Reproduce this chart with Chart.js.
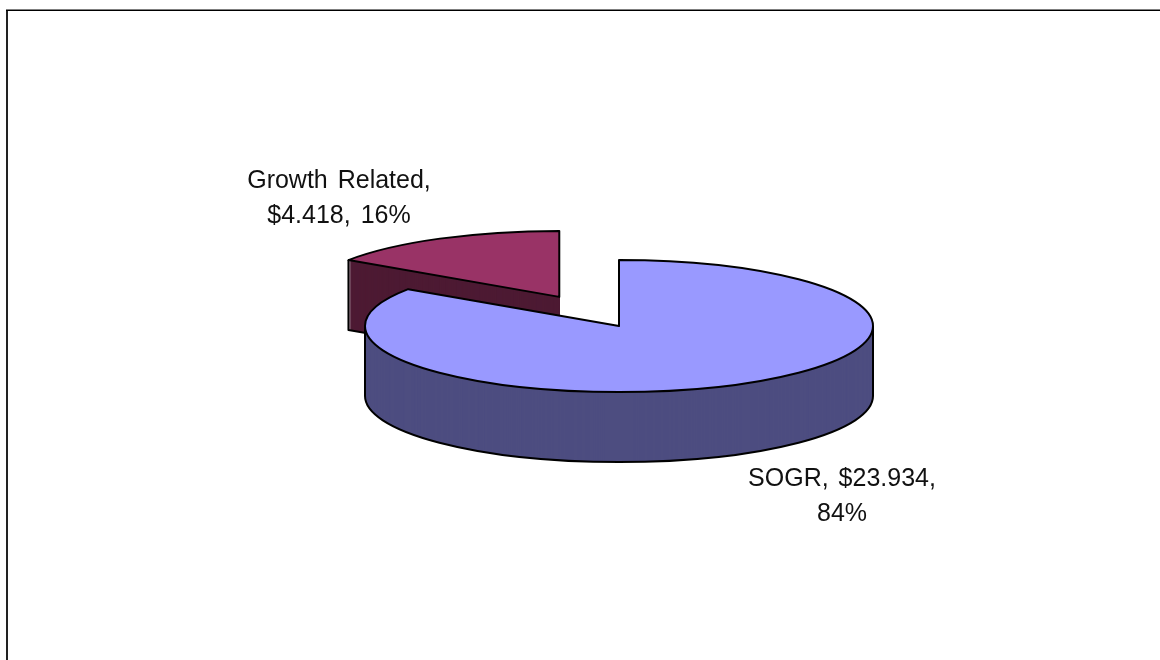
<!DOCTYPE html>
<html>
<head>
<meta charset="utf-8">
<style>
html,body{margin:0;padding:0;background:#fff;overflow:hidden}
canvas{display:block}
</style>
<script src="https://cdn.jsdelivr.net/npm/chart.js@4"></script>
</head>
<body>
<div style="width:1160px;height:660px;position:relative"><canvas id="c"></canvas></div>
<script>
const categories = ['SOGR', 'Growth Related'];
const amounts = [23.934, 4.418];
const topColors = ['#9999FF', '#993366'];
const wallColors = ['#4D4D80', '#4D1A33'];
const labelLines = [
  ['SOGR, $23.934,', '84%'],
  ['Growth Related,', '$4.418, 16%']
];

const SQUASH = 66 / 254, DEPTH = 70, EXPLODE = 127;
const labelAnchors = [[842, 486], [339, 188]];

function placement(arc, i) {
  const mid = (arc.startAngle + arc.endAngle) / 2;
  const off = i === 1 ? EXPLODE : 0;
  return { dx: Math.cos(mid) * off, dy: Math.sin(mid) * off * SQUASH };
}
function fillArc(ctx, arc, i, color, dx, dy) {
  const saved = arc.options;
  arc.options = Object.assign({}, saved, { backgroundColor: color, borderWidth: 0, offset: 0 });
  ctx.save();
  ctx.translate(arc.x + dx, arc.y + dy);
  ctx.scale(1, SQUASH);
  ctx.translate(-arc.x, -arc.y);
  arc.draw(ctx);
  ctx.restore();
  arc.options = saved;
}
function ptOn(arc, a, dx, dy) {
  return [arc.x + dx + Math.cos(a) * arc.outerRadius, arc.y + dy + Math.sin(a) * arc.outerRadius * SQUASH];
}
function stroke(ctx, build) {
  ctx.save();
  ctx.strokeStyle = '#000';
  ctx.lineWidth = 2;
  ctx.lineJoin = 'round';
  ctx.beginPath();
  build();
  ctx.stroke();
  ctx.restore();
}
function drawSlice(ctx, arc, i) {
  const { dx, dy } = placement(arc, i);
  const r = arc.outerRadius, ry = r * SQUASH;
  const cx = arc.x + dx, cy = arc.y + dy;
  for (let d = DEPTH; d >= 1; d--) fillArc(ctx, arc, i, wallColors[i], dx, dy + d);
  if (i === 0) {
    stroke(ctx, () => {
      ctx.moveTo(cx + r, cy);
      ctx.lineTo(cx + r, cy + DEPTH);
      ctx.ellipse(cx, cy + DEPTH, r, ry, 0, 0, Math.PI);
      ctx.lineTo(cx - r, cy);
    });
  } else {
    const p = ptOn(arc, arc.startAngle, dx, dy);
    stroke(ctx, () => {
      ctx.moveTo(p[0], p[1]);
      ctx.lineTo(p[0], p[1] + DEPTH);
      ctx.lineTo(cx, cy + DEPTH);
    });
  }
  fillArc(ctx, arc, i, topColors[i], dx, dy);
  stroke(ctx, () => {
    ctx.moveTo(cx, cy);
    ctx.ellipse(cx, cy, r, ry, 0, arc.startAngle, arc.endAngle);
    ctx.closePath();
  });
}

const pie3d = {
  id: 'pie3d',
  beforeDatasetDraw(chart) {
    const ctx = chart.ctx;
    const arcs = chart.getDatasetMeta(0).data;
    ctx.save();
    ctx.strokeStyle = '#222';
    ctx.lineWidth = 2;
    ctx.beginPath();
    ctx.moveTo(7, 661);
    ctx.lineTo(7, 10);
    ctx.stroke();
    ctx.lineWidth = 1.5;
    ctx.strokeStyle = '#000';
    ctx.beginPath();
    ctx.moveTo(6, 10.25);
    ctx.lineTo(1161, 10.25);
    ctx.stroke();
    ctx.restore();
    drawSlice(ctx, arcs[1], 1);
    drawSlice(ctx, arcs[0], 0);
    ctx.save();
    ctx.fillStyle = '#111';
    ctx.font = '25px "Liberation Sans", Arial, sans-serif';
    ctx.wordSpacing = '3px';
    ctx.textAlign = 'center';
    ctx.textBaseline = 'alphabetic';
    labelLines.forEach((lines, i) => {
      lines.forEach((t, j) => ctx.fillText(t, labelAnchors[i][0], labelAnchors[i][1] + j * 35));
    });
    ctx.restore();
    return false;
  }
};

new Chart(document.getElementById('c'), {
  type: 'pie',
  data: {
    labels: categories,
    datasets: [{ data: amounts, backgroundColor: topColors, borderWidth: 0 }]
  },
  options: {
    responsive: true,
    maintainAspectRatio: false,
    animation: false,
    radius: 254,
    layout: { padding: { left: 78, right: 0, top: 0, bottom: 8 } },
    plugins: { legend: { display: false }, title: { display: false }, tooltip: { enabled: false } }
  },
  plugins: [pie3d]
});
</script>
</body>
</html>
